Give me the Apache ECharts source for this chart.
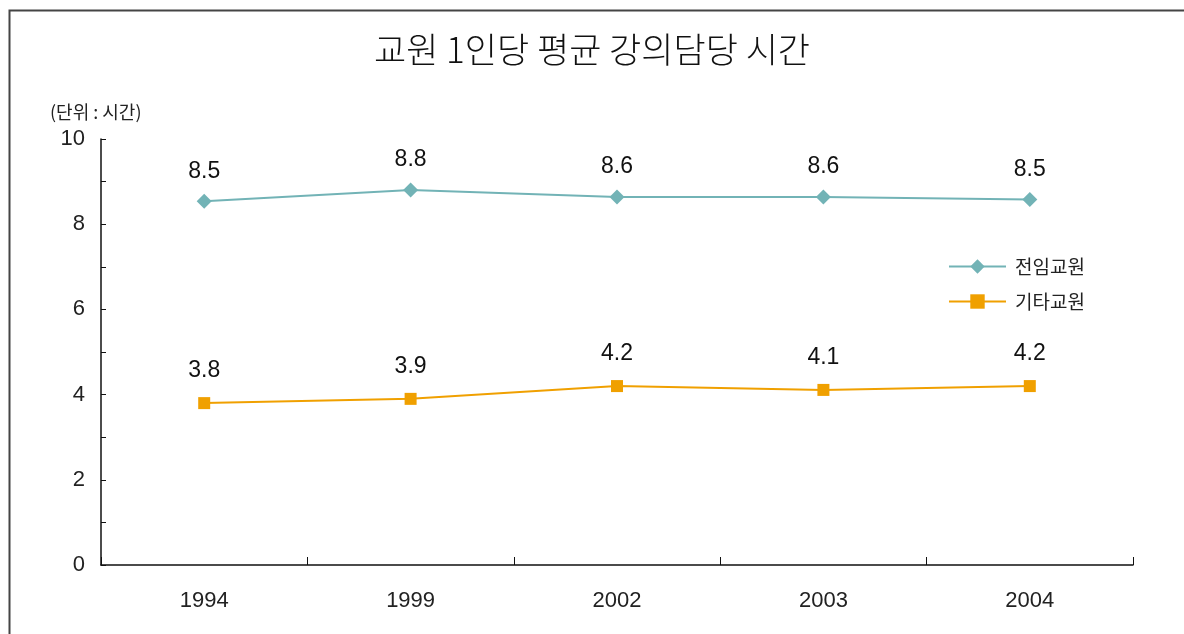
<!DOCTYPE html>
<html>
<head>
<meta charset="utf-8">
<script src="https://cdn.jsdelivr.net/npm/echarts@6/dist/echarts.min.js"></script>
<style>
html,body{margin:0;padding:0;background:#fff;}
#c{width:1184px;height:634px;}
</style>
</head>
<body>
<div id="c"></div>
<script>
var categories = ['1994', '1999', '2002', '2003', '2004'];
var fullTimeValues = [8.54, 8.8, 8.64, 8.64, 8.58];
var fullTimeLabels = ['8.5', '8.8', '8.6', '8.6', '8.5'];
var otherValues = [3.8, 3.9, 4.2, 4.11, 4.2];
var otherLabels = ['3.8', '3.9', '4.2', '4.1', '4.2'];
var seriesNames = ['전임교원', '기타교원'];
var yTickLabels = ['0', '2', '4', '6', '8', '10'];

var KR = '"Noto Sans CJK KR", "Noto Sans", sans-serif';
var NUM = '"Liberation Sans", Arial, sans-serif';

var chart = echarts.init(document.getElementById('c'), null, {renderer: 'canvas'});
chart.setOption({
  backgroundColor: '#fff',
  animation: false,
  title: {
    text: '교원 1인당 평균 강의담당 시간',
    left: 587, top: 27, textAlign: 'center',
    textStyle: {fontFamily: KR, fontSize: 35, fontWeight: 300, color: '#111'}
  },
  graphic: [
    {type: 'polyline', shape: {points: [[9.5, 634], [9.5, 10.5], [1184, 10.5]]},
     style: {stroke: '#444', lineWidth: 2, fill: null}},
    {type: 'text', left: 50, top: 103,
     style: {text: '(단위 : 시간)', fontFamily: KR, fontSize: 18, fill: '#222'}}
  ],
  legend: {
    orient: 'vertical', left: 943, top: 252, itemGap: 16,
    itemWidth: 57, itemHeight: 18,
    textStyle: {fontFamily: KR, fontSize: 19, color: '#222', padding: [0, 0, 0, 4]},
    data: seriesNames
  },
  grid: {left: 101, right: 51, top: 139, bottom: 69, containLabel: false},
  xAxis: {
    type: 'category', data: categories, boundaryGap: true,
    axisLine: {show: true, lineStyle: {color: '#111', width: 1.5}},
    axisTick: {show: true, interval: 0, inside: true, length: 8, lineStyle: {color: '#111', width: 1}},
    axisLabel: {fontFamily: NUM, fontSize: 22, color: '#222', margin: 25}
  },
  yAxis: {
    type: 'value', min: 0, max: 10, interval: 1,
    splitLine: {show: false},
    axisLine: {show: true, lineStyle: {color: '#111', width: 1.5}},
    axisTick: {show: true, inside: true, length: 5, lineStyle: {color: '#111'}},
    axisLabel: {
      fontFamily: NUM, fontSize: 22, color: '#222', margin: 16,
      formatter: function (v) { return yTickLabels.indexOf(String(v)) >= 0 ? String(v) : ''; }
    }
  },
  series: [
    {
      name: seriesNames[0], type: 'line', data: fullTimeValues,
      symbol: 'diamond', symbolSize: 15,
      itemStyle: {color: '#72B3B6'}, lineStyle: {color: '#72B3B6', width: 2},
      label: {
        show: true, position: 'top', distance: 11,
        fontFamily: NUM, fontSize: 23, color: '#111',
        formatter: function (p) { return fullTimeLabels[p.dataIndex]; }
      }
    },
    {
      name: seriesNames[1], type: 'line', data: otherValues,
      symbol: 'rect', symbolSize: 12,
      itemStyle: {color: '#F0A000'}, lineStyle: {color: '#F0A000', width: 2},
      label: {
        show: true, position: 'top', distance: 15,
        fontFamily: NUM, fontSize: 23, color: '#111',
        formatter: function (p) { return otherLabels[p.dataIndex]; }
      }
    }
  ]
});
</script>
</body>
</html>
